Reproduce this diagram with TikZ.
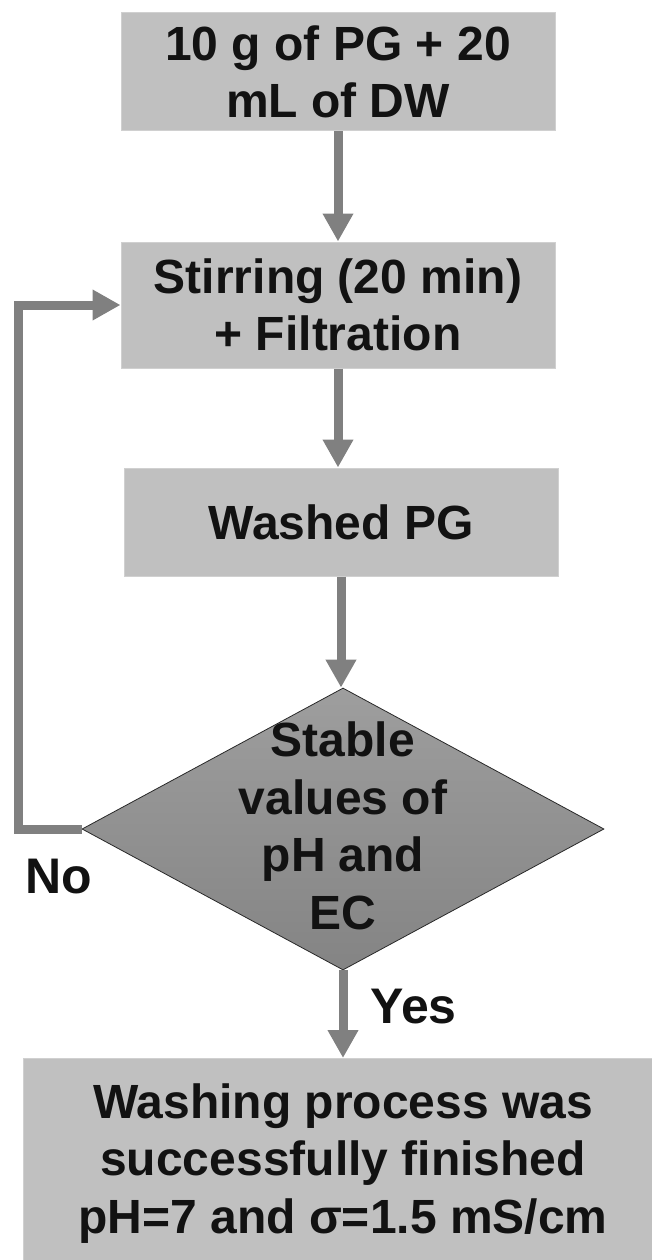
\documentclass[tikz,border=0pt]{standalone}
\usepackage{fontspec}
\setmainfont{Liberation Sans}
\usetikzlibrary{arrows.meta,shapes.geometric,calc}
\definecolor{boxfill}{RGB}{192,192,192}
\definecolor{boxline}{RGB}{208,208,208}
\definecolor{arrowcol}{RGB}{128,128,128}
\definecolor{diatop}{RGB}{158,158,158}
\definecolor{diabot}{RGB}{132,132,132}
\definecolor{dialine}{RGB}{40,40,40}
\definecolor{txt}{RGB}{18,18,18}
\begin{document}
\begin{tikzpicture}[x=1pt,y=-1pt,
  every node/.style={font=\bfseries\fontsize{48}{57.5}\selectfont, text=txt},
  procbox/.style={rectangle, fill=boxfill, draw=boxline, line width=1pt, inner sep=0pt, align=center},
  decide/.style={diamond, top color=diatop, bottom color=diabot, draw=dialine, line width=0.8pt, inner sep=0pt, minimum width=522pt, minimum height=282pt},
  flow/.style={draw=arrowcol, line width=9pt, -{Triangle[width=29pt,length=28pt]}},
  lbl/.style={font=\bfseries\fontsize{50}{60}\selectfont}
]
\path[use as bounding box] (0,0) rectangle (652,1260);
\clip (0,0) rectangle (652,1260);

\node[procbox, minimum width=434pt, minimum height=118pt] (start) at (338,72) {10 g of PG + 20\\mL of DW};
\node[procbox, minimum width=434pt, minimum height=126pt] (stir) at (338,305) {Stirring (20 min)\\+ Filtration};
\node[procbox, minimum width=434pt, minimum height=108pt] (washed) at (341,522) {Washed PG};
\node[decide] (check) at (343,829) {};
\node[align=center, inner sep=0pt] (checktxt) at (343,826) {Stable\\values of\\pH and\\EC};
\node[procbox, minimum width=640pt, minimum height=210pt, anchor=north] (done) at (343,1058) {Washing process was\\successfully finished\\pH=7 and σ=1.5 mS/cm};

\draw[flow] (start.south) -- (start.south |- stir.north);
\draw[flow] (stir.south) -- (stir.south |- washed.north);
\draw[flow] (washed.south) -- (washed.south |- check.north);
\draw[flow] (check.south) -- (check.south |- done.north);
\coordinate (loopx) at (18,0);
\draw[flow] (check.west) -- (check.west -| loopx) |- (stir.west);

\node[lbl, anchor=base west] (no) at (22,893) {No};
\node[lbl, anchor=base west] (yes) at (367,1023) {Yes};
\end{tikzpicture}
\end{document}
